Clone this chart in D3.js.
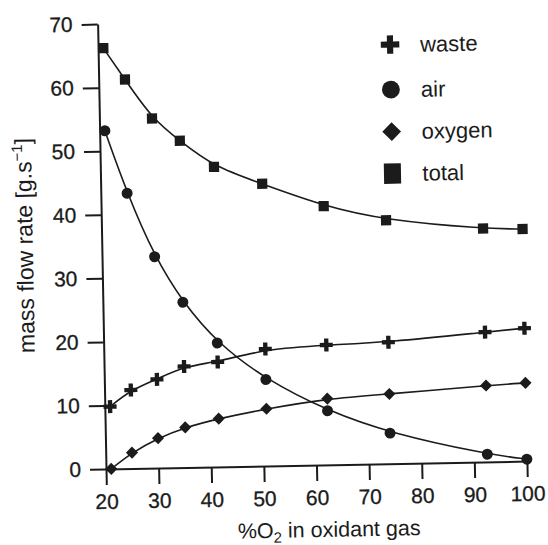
<!DOCTYPE html>
<html>
<head>
<meta charset="utf-8">
<script src="https://cdn.jsdelivr.net/npm/d3@7"></script>
<style>
  html, body { margin: 0; padding: 0; background: #fff; }
  svg { display: block; font-family: "Liberation Sans", Arial, sans-serif; }
</style>
</head>
<body>
<svg id="chart" width="548" height="545"></svg>
<script>
// % O2 in the oxidant gas at each measured operating point
const o2Percent = [21, 25, 30, 35.2, 41.6, 50.7, 62.3, 74.1, 92.5, 100];

// mass flow rates, g/s
const wasteFlow  = [9.8, 12.35, 13.95, 15.9, 16.5, 18.4, 18.85, 19.1, 20.4, 20.9];
const airFlow    = [53.2, 43.3, 33.25, 26.0, 19.5, 13.6, 8.5, 4.8, 1.2, 0.3];
const oxygenFlow = [0.0, 2.5, 4.7, 6.3, 7.6, 9.0, 10.4, 10.96, 12.0, 12.3];
const totalFlow  = [66.2, 61.2, 55.0, 51.4, 47.2, 44.4, 40.7, 38.3, 36.7, 36.5];

const xTicks = [20, 30, 40, 50, 60, 70, 80, 90, 100];
const yTicks = [0, 10, 20, 30, 40, 50, 60, 70];

const seriesNames = ["waste", "air", "oxygen", "total"];
const seriesValues = [wasteFlow, airFlow, oxygenFlow, totalFlow];

const ink = "#1b1b1b";
const svg = d3.select("#chart");

// plot frame
const frame = { left: 106, right: 527, top: 24, bottom: 469 };

const x = d3.scaleLinear().domain([20, 100]).range([frame.left, frame.right]);
const y = d3.scaleLinear().domain([0, 70]).range([frame.bottom, frame.top]);

// the whole figure sits at a slight tilt
const root = svg.append("g").attr("transform", `rotate(-1.08, ${frame.left}, ${frame.bottom})`);

// axes
const xAxis = root.append("g")
  .attr("transform", `translate(0,${frame.bottom})`)
  .call(d3.axisBottom(x).tickValues(xTicks).tickSize(16).tickSizeOuter(0).tickPadding(9));
const yAxis = root.append("g")
  .attr("transform", `translate(${frame.left},0)`)
  .call(d3.axisLeft(y).tickValues(yTicks).tickSize(16).tickSizeOuter(0).tickPadding(9));

[xAxis, yAxis].forEach(a => {
  a.select(".domain").attr("stroke", ink).attr("stroke-width", 2);
  a.selectAll(".tick line").attr("stroke", ink).attr("stroke-width", 2);
  a.selectAll(".tick text")
    .attr("fill", ink)
    .attr("stroke", ink)
    .attr("stroke-width", 0.3)
    .attr("font-size", 21)
    .attr("font-family", "'Liberation Sans', Arial, sans-serif");
});

// axis titles
const xTitle = root.append("text")
  .attr("x", 328).attr("y", 541)
  .attr("text-anchor", "middle")
  .attr("font-size", 21.5)
  .attr("fill", ink);
xTitle.append("tspan").text("%O");
xTitle.append("tspan").attr("font-size", 15).attr("dy", 5).text("2");
xTitle.append("tspan").attr("dy", -5).text(" in oxidant gas");

const yTitle = root.append("text")
  .attr("transform", `translate(37,244) rotate(-90)`)
  .attr("text-anchor", "middle")
  .attr("font-size", 23)
  .attr("fill", ink);
yTitle.append("tspan").text("mass flow rate [g.s");
yTitle.append("tspan").attr("font-size", 15).attr("dy", -9).text("\u22121");
yTitle.append("tspan").attr("dy", 9).text("]");

// smoothed curves through each series
const line = d3.line()
  .x((d, i) => x(o2Percent[i]))
  .y(d => y(d))
  .curve(d3.curveBasis);

seriesValues.forEach(vals => {
  root.append("path")
    .attr("d", line(vals))
    .attr("fill", "none")
    .attr("stroke", ink)
    .attr("stroke-width", 1.6);
});

// marker shapes
const shapes = {
  waste:  { type: d3.symbolCross,  size: 94,  rotate: 0 },
  air:    { type: d3.symbolCircle, size: 95,  rotate: 0 },
  oxygen: { type: d3.symbolSquare, size: 74,  rotate: 45 },
  total:  { type: d3.symbolSquare, size: 105, rotate: 0 }
};
const legendShapes = {
  waste:  { type: d3.symbolCross,  size: 190, rotate: 0 },
  air:    { type: d3.symbolCircle, size: 250, rotate: 0 },
  oxygen: { type: d3.symbolSquare, size: 175, rotate: 45 },
  total:  { type: d3.symbolSquare, size: 290, rotate: 0 }
};

seriesNames.forEach((name, s) => {
  const sh = shapes[name];
  root.append("g").selectAll("path")
    .data(seriesValues[s])
    .join("path")
    .attr("d", d3.symbol().type(sh.type).size(sh.size))
    .attr("transform", (d, i) => `translate(${x(o2Percent[i])},${y(d)}) rotate(${sh.rotate})`)
    .attr("fill", ink);
});

// legend
const legend = root.append("g").attr("transform", "translate(398,50)");
seriesNames.forEach((name, i) => {
  const row = legend.append("g").attr("transform", `translate(0,${[0, 45, 87, 129][i]})`);
  const sh = legendShapes[name];
  row.append("path")
    .attr("d", d3.symbol().type(sh.type).size(sh.size))
    .attr("transform", `rotate(${sh.rotate})${name === "total" ? " scale(1,1.2)" : ""}`)
    .attr("fill", ink);
  row.append("text")
    .attr("x", 30).attr("dy", "0.35em")
    .attr("font-size", 22)
    .attr("fill", ink)
    .text(name);
});
</script>
</body>
</html>
